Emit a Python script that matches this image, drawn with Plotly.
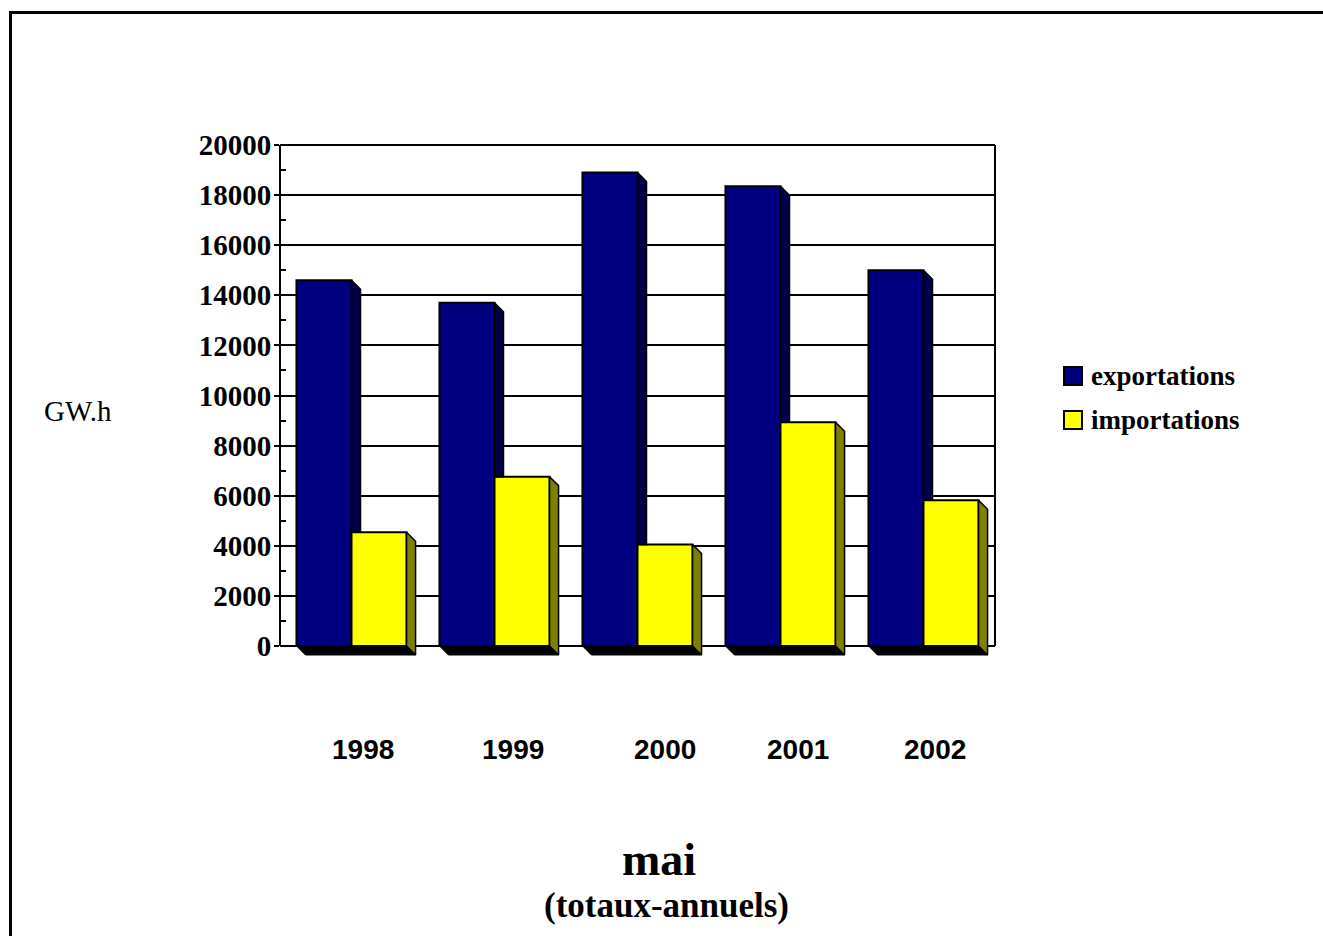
import plotly.graph_objects as go

# ---------------- data ----------------
years = ["1998", "1999", "2000", "2001", "2002"]
exportations = [14600, 13700, 18900, 18350, 15000]
importations = [4540, 6760, 4050, 8930, 5820]
series_names = ["exportations", "importations"]
y_tickvals = [0, 2000, 4000, 6000, 8000, 10000, 12000, 14000, 16000, 18000, 20000]
y_ticktext = ["0", "2000", "4000", "6000", "8000", "10000", "12000", "14000", "16000", "18000", "20000"]
y_minor_vals = [1000, 3000, 5000, 7000, 9000, 11000, 13000, 15000, 17000, 19000]
y_unit = "GW.h"
title_main = "mai"
title_sub = "(totaux-annuels)"

# ---------------- style / layout ----------------
W, H = 1323, 936
PLOT_L, PLOT_R = 280, 995
PLOT_T = 145
Y0_PX = 646            # pixel row of value 0
Y_MAX = 20000
SCALE = (Y0_PX - PLOT_T) / Y_MAX      # px per data unit
PLOT_B = 656
Y_MIN = -(PLOT_B - Y0_PX) / SCALE
X_PX_PER_UNIT = (PLOT_R - PLOT_L) / len(years)

FRONT = ["#000080", "#FFFF00"]
SIDE = ["#00004A", "#808000"]
BAR_W = 0.385
DEPTH_PX = 9
DX = DEPTH_PX / X_PX_PER_UNIT
DY = DEPTH_PX / SCALE
LABEL_SHIFT = [11, 18, 27, 17, 11]

SERIF = "Times New Roman, Liberation Serif, serif"
SANS = "Arial, Liberation Sans, sans-serif"


def px_x(px):
    return (px - PLOT_L) / (PLOT_R - PLOT_L)


def px_y(py):
    return (PLOT_B - py) / (PLOT_B - PLOT_T)


xs = list(range(len(years)))
fig = go.Figure()

fig.add_trace(go.Bar(x=xs, y=exportations, width=BAR_W, offset=-BAR_W,
                     marker=dict(color=FRONT[0], line=dict(color="black", width=2)),
                     name=series_names[0], showlegend=False))
fig.add_trace(go.Bar(x=xs, y=importations, width=BAR_W, offset=0,
                     marker=dict(color=FRONT[1], line=dict(color="black", width=2)),
                     name=series_names[1], showlegend=False))

# 3-D side faces and floor shadow computed from the data
for i, (e, imp) in enumerate(zip(exportations, importations)):
    fig.add_trace(go.Scatter(
        x=[i, i + DX, i + DX, i, i], y=[e, e - DY, imp, imp, e],
        mode="lines", fill="toself", fillcolor=SIDE[0],
        line=dict(color="black", width=1.5), hoverinfo="skip", showlegend=False))
    xr = i + BAR_W
    fig.add_trace(go.Scatter(
        x=[xr, xr + DX, xr + DX, xr, xr], y=[imp, imp - DY, -DY, 0, imp],
        mode="lines", fill="toself", fillcolor=SIDE[1],
        line=dict(color="black", width=1.5), hoverinfo="skip", showlegend=False))
    xl = i - BAR_W
    fig.add_trace(go.Scatter(
        x=[xl, xl + DX, xr + DX, xr, xl], y=[0, -DY, -DY, 0, 0],
        mode="lines", fill="toself", fillcolor="black",
        line=dict(color="black", width=1), hoverinfo="skip", showlegend=False))

Y0_P = px_y(Y0_PX)
FRAME = dict(color="black", width=2)
shapes = [
    dict(type="line", xref="paper", yref="paper", x0=0, x1=0, y0=Y0_P, y1=1, line=FRAME, layer="below"),
    dict(type="line", xref="paper", yref="paper", x0=1, x1=1, y0=Y0_P, y1=1, line=FRAME, layer="below"),
    dict(type="line", xref="paper", yref="paper", x0=0, x1=1, y0=Y0_P, y1=Y0_P, line=FRAME, layer="below"),
    dict(type="line", xref="paper", yref="paper", x0=0, x1=1, y0=1, y1=1, line=FRAME, layer="below"),
    dict(type="rect", xref="paper", yref="paper", x0=px_x(10.5), x1=px_x(1360),
         y0=px_y(990), y1=px_y(12.5), line=dict(color="black", width=3)),
]

annotations = []
for i, yr in enumerate(years):
    annotations.append(dict(x=i, y=px_y(749), xref="x", yref="paper", text=yr,
                            showarrow=False, xshift=LABEL_SHIFT[i],
                            xanchor="center", yanchor="middle",
                            font=dict(family=SANS, size=28, color="black", weight="bold")))

annotations.append(dict(x=px_x(78), y=px_y(411), xref="paper", yref="paper", text=y_unit,
                        showarrow=False, xanchor="center", yanchor="middle",
                        font=dict(family=SERIF, size=29, color="black")))
annotations.append(dict(x=px_x(659), y=px_y(859), xref="paper", yref="paper", text=title_main,
                        showarrow=False, xanchor="center", yanchor="middle",
                        font=dict(family=SERIF, size=46, color="black", weight="bold")))
annotations.append(dict(x=px_x(666), y=px_y(905), xref="paper", yref="paper", text=title_sub,
                        showarrow=False, xanchor="center", yanchor="middle",
                        font=dict(family=SERIF, size=35, color="black", weight="bold")))

LEG_Y = [376, 420]
for k, name in enumerate(series_names):
    shapes.append(dict(type="rect", xref="paper", yref="paper",
                       x0=px_x(1064), x1=px_x(1082), y0=px_y(LEG_Y[k] + 9), y1=px_y(LEG_Y[k] - 9),
                       fillcolor=FRONT[k], line=dict(color="black", width=2)))
    annotations.append(dict(x=px_x(1089), y=px_y(LEG_Y[k]), xref="paper", yref="paper",
                            text=name, showarrow=False, xanchor="left", yanchor="middle",
                            font=dict(family=SERIF, size=27, color="black", weight="bold")))

fig.update_layout(
    width=W, height=H,
    margin=dict(l=PLOT_L, r=W - PLOT_R, t=PLOT_T, b=H - PLOT_B, pad=0),
    paper_bgcolor="white", plot_bgcolor="white",
    barmode="overlay", showlegend=False,
    shapes=shapes, annotations=annotations,
    xaxis=dict(range=[-0.5, len(years) - 0.5], showgrid=False, showticklabels=False,
               ticks="", zeroline=False, showline=False, fixedrange=True),
    yaxis=dict(range=[Y_MIN, Y_MAX], tickmode="array", tickvals=y_tickvals, ticktext=y_ticktext,
               showgrid=True, gridcolor="black", gridwidth=2, zeroline=False, showline=False,
               ticks="outside", ticklen=5, tickwidth=2, tickcolor="black", ticklabelstandoff=-3,
               tickfont=dict(family=SERIF, size=29, color="black", weight="bold"),
               minor=dict(tickvals=y_minor_vals, ticks="inside", ticklen=6, tickwidth=2,
                          tickcolor="black", showgrid=False),
               fixedrange=True),
)

fig.write_html("out.html",
               config={"displayModeBar": False},
               post_script="document.body.style.margin='0';document.body.style.overflow='hidden';")
